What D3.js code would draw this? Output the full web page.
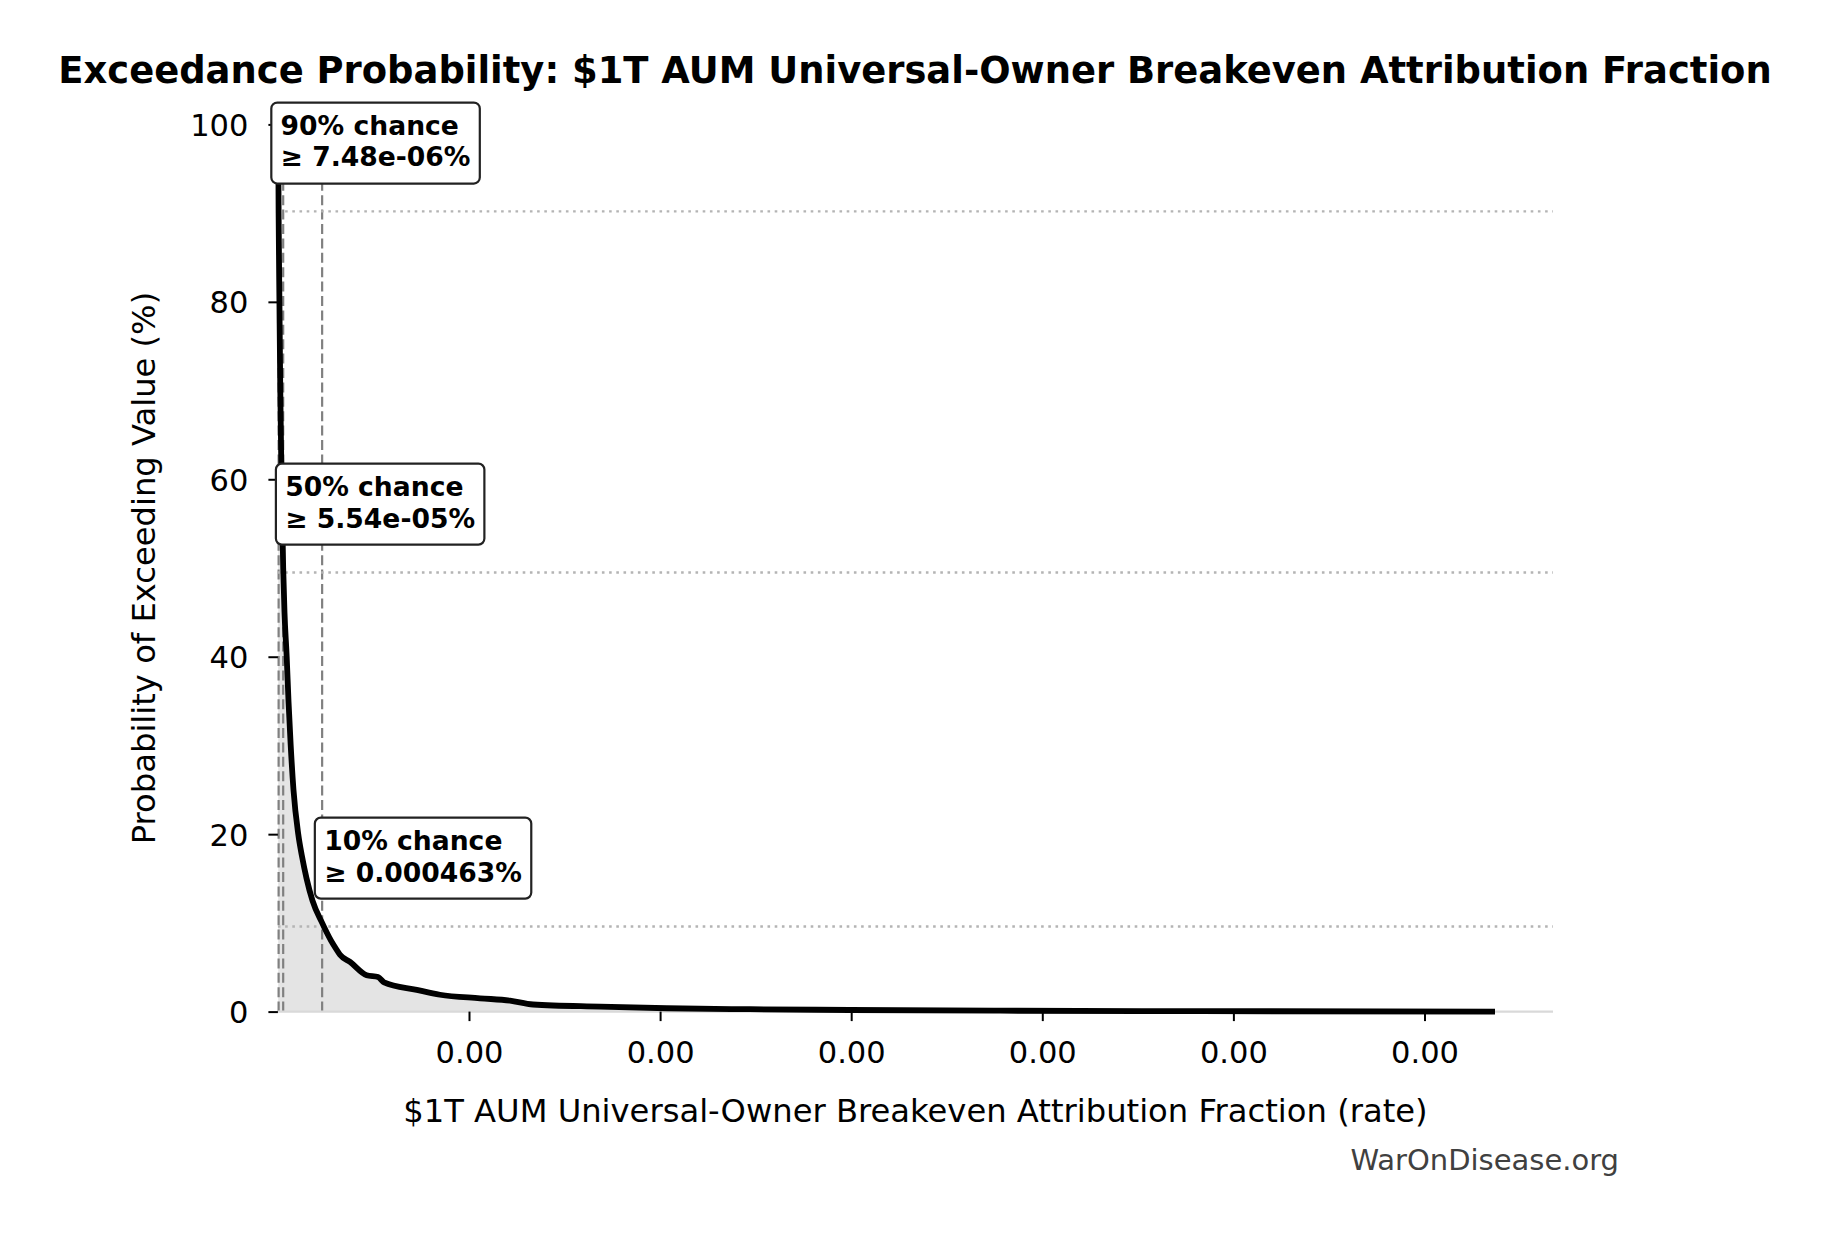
<!DOCTYPE html>
<html>
<head>
<meta charset="utf-8">
<script src="https://cdn.jsdelivr.net/npm/d3@7"></script>
<style>
body { margin: 0; background: #fff; }
text { font-family: "DejaVu Sans", sans-serif; }
</style>
</head>
<body>
<div id="chart"></div>
<script>
// exceedance curve (probability in %, value as a rate)
const exceedProb = [100, 90, 80, 70, 60, 50, 45, 40, 35, 30, 25, 20, 17.5, 15, 12.5, 10, 8, 7, 6.4, 5.6, 4.1, 3.9, 3.3, 2.45, 1.9, 1.5, 1.24, 0.8, 0.56, 0.38, 0.27, 0.18, 0.1, 0.05, 0.0];
const rateValue = [3e-8, 7.48e-8, 1.6e-7, 2.5e-7, 3.8e-7, 5.54e-7, 6.9e-7, 9.2e-7, 1.11e-6, 1.34e-6, 1.63e-6, 2.13e-6, 2.52e-6, 3.0e-6, 3.62e-6, 4.63e-6, 5.56e-6, 6.13e-6, 6.5e-6, 7.55e-6, 9.29e-6, 1.048e-5, 1.111e-5, 1.453e-5, 1.696e-5, 2.115e-5, 2.429e-5, 2.67e-5, 3.371e-5, 4.069e-5, 4.941e-5, 5.988e-5, 7.558e-5, 9.651e-5, 1.2738e-4];

// percentile markers
const pctProb = [90, 50, 10];
const pctValue = [7.48e-8, 5.54e-7, 4.63e-6];
const pctTitle = ["90% chance", "50% chance", "10% chance"];
const pctText = ["\u2265 7.48e-06%", "\u2265 5.54e-05%", "\u2265 0.000463%"];
const pctLabelProb = [97.9, 57.2, 17.3]; // where each label box sits
const refLineProb = [90.2, 49.5, 9.6];

const xTickValues = [2e-5, 4e-5, 6e-5, 8e-5, 1e-4, 1.2e-4];
const yTickValues = [0, 20, 40, 60, 80, 100];

const data = exceedProb.map((p, i) => ({prob: p, rate: rateValue[i]}));

const width = 1830;
const height = 1233;
const margin = {left: 277.9, right: 1553, top: 124.4, bottom: 1011.6}; // plot edges in px

const svg = d3.select("#chart")
    .append("svg")
    .attr("width", width)
    .attr("height", height)
    .style("background", "#fff");

const xScale = d3.scaleLinear()
    .domain([3e-8, 1.3345e-4])
    .range([margin.left + 3e-8 * 9.555e6, margin.right]);

const yScale = d3.scaleLinear()
    .domain([0, 100])
    .range([margin.bottom, margin.top]);

// fill under the curve
const areaGenerator = d3.area()
    .x(d => xScale(d.rate))
    .y0(yScale(0))
    .y1(d => yScale(d.prob))
    .curve(d3.curveMonotoneX);

svg.append("path")
    .attr("d", areaGenerator(data))
    .attr("fill", "#e4e4e4");

// percentile lines
svg.selectAll(".pct-line")
    .data(pctValue)
    .join("line")
    .attr("class", "pct-line")
    .attr("x1", d => xScale(d))
    .attr("x2", d => xScale(d))
    .attr("y1", yScale(0))
    .attr("y2", yScale(100))
    .attr("stroke", "#808080")
    .attr("stroke-width", 2.2)
    .attr("stroke-dasharray", "10,4.4");

svg.selectAll(".ref-line")
    .data(refLineProb)
    .join("line")
    .attr("class", "ref-line")
    .attr("x1", margin.left)
    .attr("x2", margin.right)
    .attr("y1", d => yScale(d))
    .attr("y2", d => yScale(d))
    .attr("stroke", "#b4b4b4")
    .attr("stroke-width", 2.4)
    .attr("stroke-dasharray", "2.6,4.6");

// bottom spine
svg.append("line")
    .attr("x1", margin.left).attr("x2", margin.right)
    .attr("y1", margin.bottom).attr("y2", margin.bottom)
    .attr("stroke", "#d9d9d9")
    .attr("stroke-width", 2.4);

// the curve
const lineGenerator = d3.line()
    .x(d => xScale(d.rate))
    .y(d => yScale(d.prob))
    .curve(d3.curveMonotoneX);

svg.append("path")
    .attr("d", lineGenerator(data))
    .attr("fill", "none")
    .attr("stroke", "#000")
    .attr("stroke-width", 5.8)
    .attr("stroke-linejoin", "round");

// axes
const xAxis = d3.axisBottom(xScale)
    .tickValues(xTickValues)
    .tickFormat(d3.format(".2f"))
    .tickSize(9.5)
    .tickPadding(20);

const yAxis = d3.axisLeft(yScale)
    .tickValues(yTickValues)
    .tickSize(9.5)
    .tickPadding(20);

const gx = svg.append("g")
    .attr("transform", `translate(0,${margin.bottom})`)
    .call(xAxis);

const gy = svg.append("g")
    .attr("transform", `translate(${margin.left},0)`)
    .call(yAxis);

[gx, gy].forEach(g => {
    g.select(".domain").remove();
    g.selectAll(".tick line").attr("stroke", "#000").attr("stroke-width", 2);
    g.selectAll(".tick text")
        .attr("font-size", 30.5)
        .attr("font-family", "DejaVu Sans")
        .attr("fill", "#000");
});
gy.selectAll(".tick text").attr("dy", "0.36em");

// annotation boxes
pctProb.forEach((p, i) => {
    const tx = xScale(pctValue[i]) + 2;
    const yc = yScale(pctLabelProb[i]);
    const g = svg.append("g");
    const rect = g.append("rect");
    const label = g.append("text")
        .attr("font-size", 26.6)
        .attr("font-weight", "bold")
        .attr("fill", "#000");
    label.append("tspan").attr("x", tx).attr("y", yc - 8.5).text(pctTitle[i]);
    label.append("tspan").attr("x", tx).attr("y", yc + 23.4).text(pctText[i]);
    const w = label.node().getBBox().width;
    rect.attr("x", tx - 9.3)
        .attr("y", yc - 40.5)
        .attr("width", w + 18.6)
        .attr("height", 81)
        .attr("rx", 6)
        .attr("fill", "#fff")
        .attr("stroke", "#222")
        .attr("stroke-width", 2.2);
});

// titles
svg.append("text")
    .text("Exceedance Probability: $1T AUM Universal-Owner Breakeven Attribution Fraction")
    .attr("x", 915)
    .attr("y", 83)
    .attr("text-anchor", "middle")
    .attr("font-size", 36.9)
    .attr("font-weight", "bold");

svg.append("text")
    .text("$1T AUM Universal-Owner Breakeven Attribution Fraction (rate)")
    .attr("x", (margin.left + margin.right) / 2)
    .attr("y", 1122)
    .attr("text-anchor", "middle")
    .attr("font-size", 32.2);

svg.append("text")
    .text("Probability of Exceeding Value (%)")
    .attr("transform", `translate(155,${(margin.top + margin.bottom) / 2}) rotate(-90)`)
    .attr("text-anchor", "middle")
    .attr("font-size", 32.2);

svg.append("text")
    .text("WarOnDisease.org")
    .attr("x", 1619)
    .attr("y", 1170)
    .attr("text-anchor", "end")
    .attr("font-size", 29)
    .attr("fill", "#404040");
</script>
</body>
</html>
